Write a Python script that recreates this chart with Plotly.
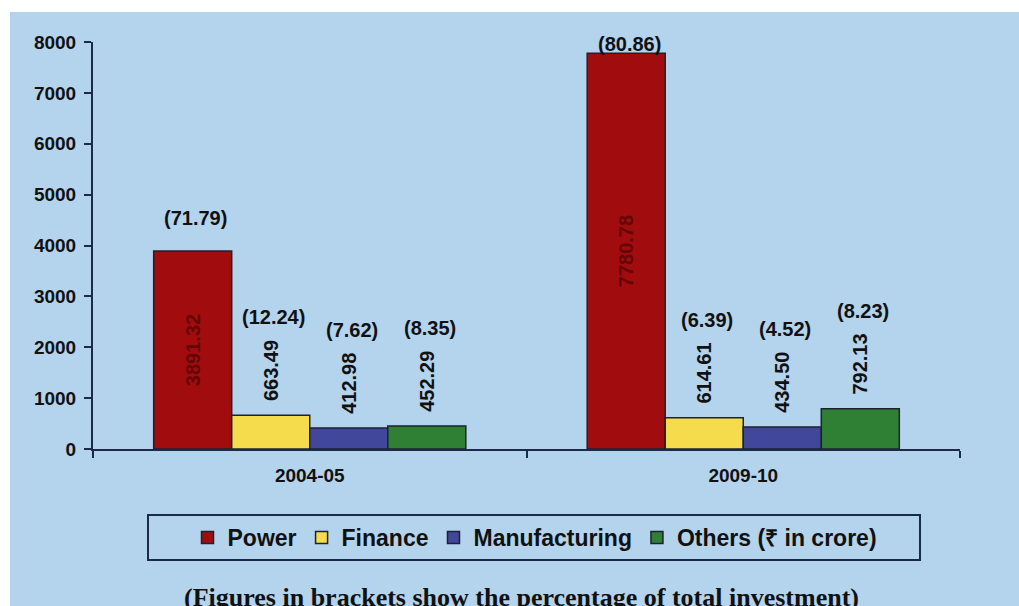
import plotly.graph_objects as go

years = ["2004-05", "2009-10"]
series = ["Power", "Finance", "Manufacturing", "Others (₹ in crore)"]
power = [3891.32, 7780.78]
finance = [663.49, 614.61]
manufacturing = [412.98, 434.50]
others = [452.29, 792.13]
pct_power = [71.79, 80.86]
pct_finance = [12.24, 6.39]
pct_manufacturing = [7.62, 4.52]
pct_others = [8.35, 8.23]
y_ticks = [0, 1000, 2000, 3000, 4000, 5000, 6000, 7000, 8000]

values = [power, finance, manufacturing, others]
pcts = [pct_power, pct_finance, pct_manufacturing, pct_others]
colors = ["#a10d0f", "#f4dc4c", "#41479b", "#2f7f34"]

W, H = 1019, 606
ML, MR, MT, MB = 93, 59, 42, 157
plot_w = W - ML - MR
plot_h = H - MT - MB
YMAX = 8000
px_per_unit = plot_h / YMAX
BARGAP = 0.28
bar_px = plot_w / len(years) * (1 - BARGAP) / len(series)

FONT = "Liberation Sans, Arial, sans-serif"
AXIS_COL = "#1c2a4a"

fig = go.Figure()
for i, (name, vals) in enumerate(zip(series, values)):
    inside = (i == 0)
    fig.add_trace(go.Bar(
        name=name, x=years, y=vals,
        marker=dict(color=colors[i], line=dict(color="#1e2230", width=1.5)),
        text=[f"{v:.2f}" for v in vals],
        texttemplate="%{text}" if inside else "\u00a0\u00a0%{text}",
        textposition="inside" if inside else "outside",
        insidetextanchor="middle",
        textangle=-90,
        textfont=dict(family=FONT, size=20, weight="bold",
                      color="#660505" if inside else "#111111"),
        cliponaxis=False,
    ))

annotations = []
for i, (vals, pc) in enumerate(zip(values, pcts)):
    for j, (v, p) in enumerate(zip(vals, pc)):
        off_px = 33 if i == 0 else 98
        ylab = min(v + off_px / px_per_unit, YMAX - 40)
        annotations.append(dict(
            x=years[j], y=ylab, xref="x", yref="y",
            xshift=(i - 1.5) * bar_px + 3,
            text=f"({p:.2f})", showarrow=False,
            font=dict(family=FONT, size=20, weight="bold", color="#111111"),
        ))

annotations.append(dict(
    xref="paper", yref="paper", x=(521 - ML) / plot_w, y=(H - MB - 597) / plot_h,
    yanchor="middle", xanchor="center", showarrow=False,
    text="(Figures in brackets show the percentage of total investment)",
    font=dict(family="Liberation Serif, Times New Roman, serif", size=26,
              weight="bold", color="#111111"),
))

def px_x(px):
    return (px - ML) / plot_w

def px_y(py):
    return (H - MB - py) / plot_h

shapes = [
    dict(type="rect", xref="paper", yref="paper", x0=px_x(0), x1=px_x(W + 5),
         y0=px_y(12), y1=px_y(-5), fillcolor="white", line=dict(width=0), layer="above"),
    dict(type="rect", xref="paper", yref="paper", x0=px_x(-5), x1=px_x(10),
         y0=px_y(H + 5), y1=px_y(-5), fillcolor="white", line=dict(width=0), layer="above"),
    dict(type="rect", xref="paper", yref="paper", x0=px_x(148), x1=px_x(920),
         y0=px_y(560), y1=px_y(515), line=dict(color=AXIS_COL, width=2),
         fillcolor="rgba(0,0,0,0)"),
]

fig.update_layout(
    width=W, height=H,
    margin=dict(l=ML, r=MR, t=MT, b=MB),
    paper_bgcolor="#b4d3ec", plot_bgcolor="rgba(0,0,0,0)",
    barmode="group", bargap=BARGAP, bargroupgap=0,
    font=dict(family=FONT, color="#111111"),
    showlegend=True,
    legend=dict(orientation="h", x=px_x(535), xanchor="center",
                y=px_y(516), yanchor="top", bgcolor="rgba(0,0,0,0)",
                font=dict(family=FONT, size=23, weight="bold", color="#111111"),
                itemwidth=30, traceorder="normal"),
    annotations=annotations,
    shapes=shapes,
)
fig.update_xaxes(type="category", tickson="boundaries", ticks="outside", ticklen=7,
                 tickwidth=2, tickcolor=AXIS_COL, showline=True, linecolor=AXIS_COL,
                 linewidth=2, showgrid=False, ticklabelstandoff=8,
                 tickfont=dict(family=FONT, size=19, weight="bold", color="#111111"))
fig.update_yaxes(range=[0, YMAX], tickvals=y_ticks, ticks="outside", ticklen=7,
                 tickwidth=2, tickcolor=AXIS_COL, showline=True, linecolor=AXIS_COL,
                 linewidth=2, showgrid=False, zeroline=False, ticklabelstandoff=4,
                 tickfont=dict(family=FONT, size=19, weight="bold", color="#111111"))

fig.write_html("out.html")
